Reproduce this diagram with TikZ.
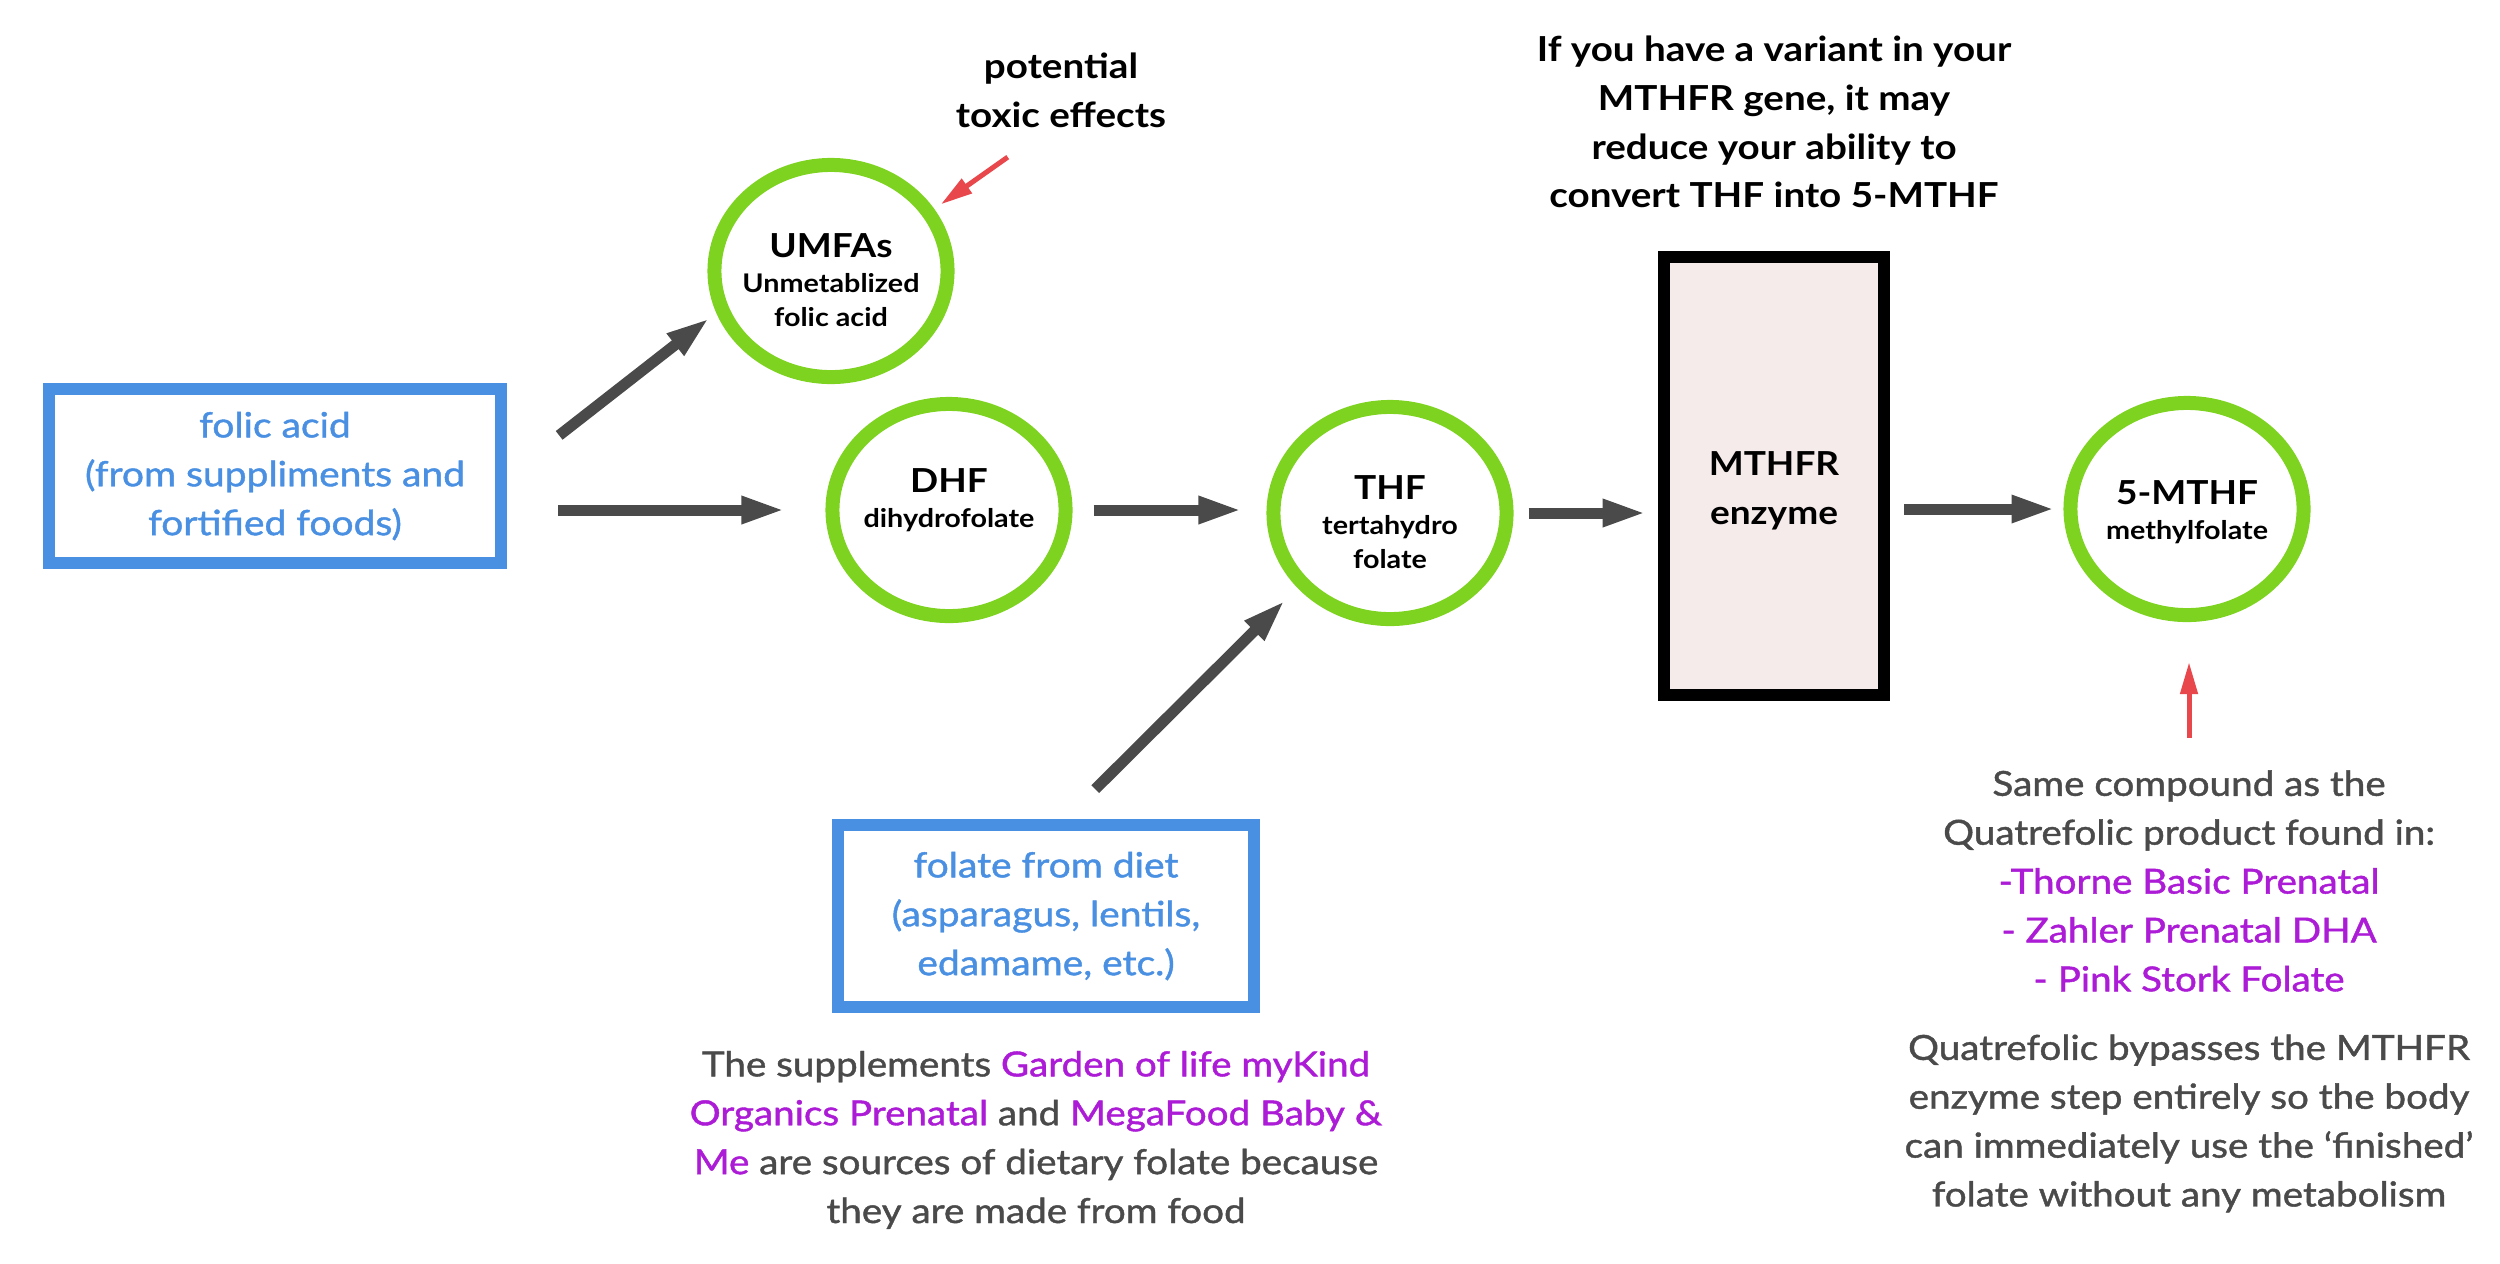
\documentclass[tikz,border=0pt]{standalone}
\usepackage{fontspec}
\usepackage{xcolor}
\usetikzlibrary{shapes.geometric, arrows.meta, positioning, calc}
\setmainfont{Lato}[FakeStretch=1.12]
\newfontfamily\medfont{Lato}[FakeStretch=1.12, FakeBold=1.2]
\definecolor{RingGreen}{HTML}{7ED321}
\definecolor{BoxBlue}{HTML}{4A90E2}
\definecolor{InkGray}{HTML}{4A4A4A}
\definecolor{BrandPurple}{HTML}{AC1BD6}
\definecolor{NoteRed}{HTML}{E8474C}
\definecolor{EnzymePink}{HTML}{F6EBEB}
\newcommand{\brand}[1]{\textcolor{BrandPurple}{#1}}
\newcommand{\ringname}[1]{{\fontsize{9.4}{9.7}\selectfont #1}}

\begin{document}
\begin{tikzpicture}[x=0.01cm, y=-0.01cm,
    ring/.style={ellipse, draw=RingGreen, line width=3.98pt,
          minimum width=2.33cm, minimum height=2.12cm, inner sep=0pt},
    ringtext/.style={align=center, inner sep=0pt,
          font=\bfseries\fontsize{7.3}{9.7}\selectfont},
    srcbox/.style={rectangle, draw=BoxBlue, line width=3.4pt, text=BoxBlue,
          align=center, font=\medfont\fontsize{9.9}{13.9}\selectfont},
    flow/.style={draw=InkGray, line width=3.13pt,
          -{Triangle[length=12.5pt, width=7.1pt]}},
    hint/.style={draw=NoteRed, line width=1.42pt,
          -{Triangle[length=9.1pt, width=4.8pt]}},
    blacknote/.style={align=center, font=\bfseries\fontsize{9.8}{13.9}\selectfont},
    graynote/.style={align=center, text=InkGray,
          font=\medfont\fontsize{9.8}{13.9}\selectfont}]

    \useasboundingbox (0,0) rectangle (2500,1263);

    \node[srcbox, minimum width=4.52cm, minimum height=1.74cm] (folic) at (275,476) {
        folic acid\\(from suppliments and\\fortified foods)
    };
    \node[ring] (umfa) at (831,271) {};
    \node[ring] (dhf) at (949,510) {};
    \node[ring] (thf) at (1390,513) {};
    \node[rectangle, draw=black, line width=3.56pt, fill=EnzymePink,
          minimum width=2.2cm, minimum height=4.38cm] (mthfr) at (1774,476) {};
    \node[ring] (mthf) at (2187,509) {};
    \node[srcbox, minimum width=4.16cm, minimum height=1.81cm] (diet) at (1046,916) {
        folate from diet\\(asparagus, lentils,\\edamame, etc.)
    };

    \node[ringtext] (umfatext) at ([yshift=-0.09cm]umfa.center) {\ringname{UMFAs}\\[0.01cm]Unmetablized\\folic acid};
    \node[ringtext] (dhftext) at ([yshift=0.095cm]dhf.center) {\ringname{DHF}\\[0.01cm]dihydrofolate};
    \node[ringtext] (thftext) at ([yshift=-0.09cm]thf.center) {\ringname{THF}\\[0.01cm]tertahydro\\folate};
    \node[ringtext] (mthftext) at ([yshift=-0.03cm]mthf.center) {\ringname{5-MTHF}\\[0.01cm]methylfolate};
    \node[align=center, font=\bfseries\fontsize{9.4}{14}\selectfont] (mthfrtext)
        at ([yshift=-0.15cm]mthfr.center) {MTHFR\\enzyme};

    \node[blacknote] (toxic) at (1061,90) {potential\\toxic effects};
    \node[blacknote] (variant) at (1774,122) {
        If you have a variant in your\\MTHFR gene, it may\\reduce your ability to\\convert THF into 5-MTHF
    };
    \node[graynote, below=0.26cm of diet, xshift=-0.1cm] (dietnote) {
        The supplements \brand{Garden of life myKind}\\
        \brand{Organics Prenatal} and \brand{MegaFood Baby \&}\\
        \brand{Me} are sources of dietary folate because\\
        they are made from food
    };
    \node[graynote] (samenote) at (2189,881) {
        Same compound as the\\Quatrefolic product found in:\\
        \brand{-Thorne Basic Prenatal}\\\brand{- Zahler Prenatal DHA}\\\brand{- Pink Stork Folate}
    };
    \node[graynote, below=0.18cm of samenote] (quatnote) {
        Quatrefolic bypasses the MTHFR\\enzyme step entirely so the body\\
        can immediately use the ‘finished’\\folate without any metabolism
    };

    \draw[flow, shorten <=0.66cm, shorten >=0.08cm] (folic.east) -- (umfa.200);
    \draw[flow, shorten <=0.51cm, shorten >=0.4cm] (folic.east |- dhf.west) -- (dhf.west);
    \draw[flow, shorten <=0.21cm, shorten >=0.24cm] (dhf.east) -- (dhf.east -| thf.west);
    \draw[flow, shorten <=0.15cm, shorten >=0.11cm] (thf.east) -- (thf.east -| mthfr.west);
    \draw[flow, shorten <=0.14cm, shorten >=0.08cm] (mthfr.east |- mthf.west) -- (mthf.west);
    \draw[flow, shorten <=0.43cm, shorten >=0.17cm] (diet.79) -- (thf.219);

    \draw[hint, shorten <=0.3cm, shorten >=0.08cm] (toxic.240) -- (umfa.31);
    \draw[hint, shorten <=0.2cm, shorten >=0.4cm] (samenote.north) -- (samenote.north |- mthf.south);
\end{tikzpicture}
\end{document}
